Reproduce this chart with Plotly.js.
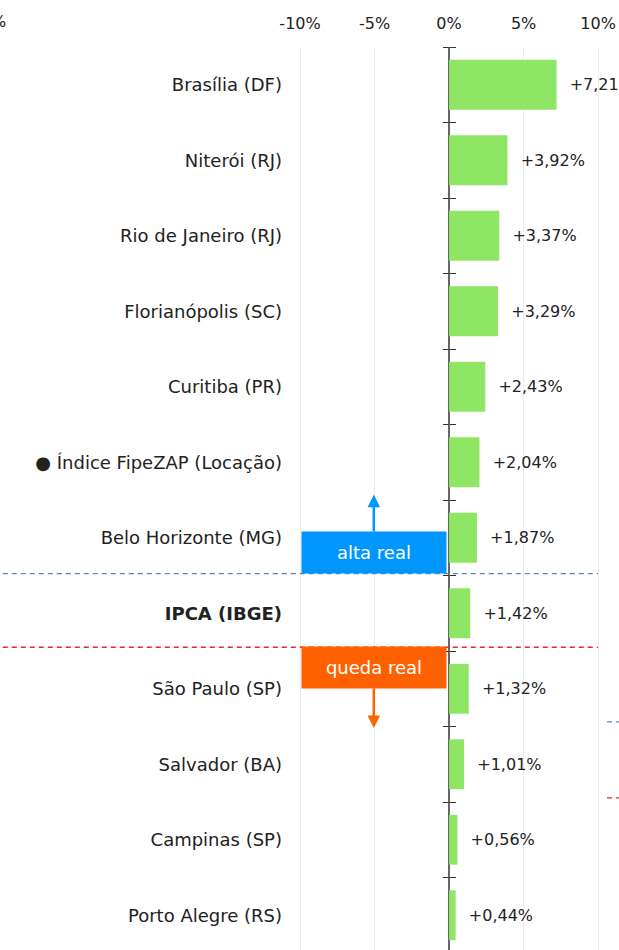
<!DOCTYPE html>
<html>
<head>
<meta charset="utf-8">
<script src="https://cdn.plot.ly/plotly-3.0.1.min.js"></script>
<style>
html, body { margin: 0; padding: 0; overflow: hidden; background: #fff; }
#chart { width: 800px; height: 1000px; }
</style>
</head>
<body>
<div id="chart"></div>
<script>
// ---- data ----
const cities = [
  'Brasília (DF)',
  'Niterói (RJ)',
  'Rio de Janeiro (RJ)',
  'Florianópolis (SC)',
  'Curitiba (PR)',
  '● Índice FipeZAP (Locação)',
  'Belo Horizonte (MG)',
  'IPCA (IBGE)',
  'São Paulo (SP)',
  'Salvador (BA)',
  'Campinas (SP)',
  'Porto Alegre (RS)'
];
const changes = [7.21, 3.92, 3.37, 3.29, 2.43, 2.04, 1.87, 1.42, 1.32, 1.01, 0.56, 0.44];
const xTickVals = [-10, -5, 0, 5, 10];
const xTickText = ['-10%', '-5%', '0%', '5%', '10%'];
const benchmark = 'IPCA (IBGE)';
const upLabel = 'alta real';
const downLabel = 'queda real';

// ---- styling / geometry ----
const FONT = '"DejaVu Sans", "Open Sans", sans-serif';
const W = 800, H = 1000;
const L = 299, T = 47, PW = 304, PH = 906;
const xRange = [-10.07, 10.33];
const n = cities.length;
const zeroFrac = (0 - xRange[0]) / (xRange[1] - xRange[0]);
const tenFrac = (10 - xRange[0]) / (xRange[1] - xRange[0]);
const ipcaIdx = cities.indexOf(benchmark);
const boundaries = cities.map((c, i) => i - 0.5).concat([n - 0.5]);

const fmt = v => '\u00a0\u00a0+' + v.toFixed(2).replace('.', ',') + '%';
const tickText = cities.map(c => c === benchmark ? '<b>' + c + '</b>' : c);

const bars = {
  type: 'bar',
  orientation: 'h',
  x: changes,
  y: cities,
  marker: { color: '#8fe564' },
  text: changes.map(fmt),
  textposition: 'outside',
  constraintext: 'none',
  cliponaxis: false,
  textfont: { family: FONT, size: 16, color: '#222' },
  hoverinfo: 'skip',
  showlegend: false
};
const helperL = { type: 'scatter', mode: 'markers', x: [0], y: [0], yaxis: 'y2',
  marker: { opacity: 0 }, hoverinfo: 'skip', showlegend: false };
const helperR = { type: 'scatter', mode: 'markers', x: [0], y: [0], yaxis: 'y3',
  marker: { opacity: 0 }, hoverinfo: 'skip', showlegend: false };

const tickAxis = side => ({
  overlaying: 'y', anchor: 'free', position: zeroFrac, side: side,
  range: [n - 0.5, -0.5], tickmode: 'array', tickvals: boundaries,
  ticks: 'outside', ticklen: 6, tickwidth: 1, tickcolor: '#333',
  showticklabels: false, showgrid: false, zeroline: false, showline: false,
  fixedrange: true
});

const layout = {
  width: W, height: H,
  margin: { l: L, t: T, r: W - L - PW, b: H - T - PH, pad: 0 },
  paper_bgcolor: '#fff', plot_bgcolor: '#fff',
  font: { family: FONT, color: '#222', size: 16 },
  bargap: 0.34,
  showlegend: true,
  xaxis: {
    side: 'top', range: xRange, tickmode: 'array', tickvals: xTickVals, ticktext: xTickText,
    ticks: '', ticklabelstandoff: 14, tickfont: { size: 16, color: '#222' },
    showgrid: true, gridcolor: '#ececec', gridwidth: 1,
    zeroline: true, zerolinecolor: '#666', zerolinewidth: 2,
    showline: false, fixedrange: true
  },
  yaxis: {
    type: 'category', categoryorder: 'array', categoryarray: cities,
    range: [n - 0.5, -0.5], tickmode: 'array', tickvals: cities, ticktext: tickText,
    ticks: '', ticklabelstandoff: 16, tickfont: { size: 18, color: '#222' },
    showgrid: false, zeroline: false, showline: false, fixedrange: true
  },
  yaxis2: tickAxis('left'),
  yaxis3: tickAxis('right'),
  shapes: [
    { type: 'line', xref: 'paper', yref: 'y', x0: -1.3, x1: tenFrac,
      y0: ipcaIdx - 0.525, y1: ipcaIdx - 0.525,
      line: { color: '#5585d0', width: 1.3, dash: '5px,4px' },
      showlegend: true, name: '', legend: 'legend' },
    { type: 'line', xref: 'paper', yref: 'y', x0: -1.3, x1: tenFrac,
      y0: ipcaIdx + 0.45, y1: ipcaIdx + 0.45,
      line: { color: '#e8262a', width: 1.3, dash: '5px,4px' },
      showlegend: true, name: '', legend: 'legend2' }
  ],
  legend: { x: (602 - L) / PW, xanchor: 'left', y: 1 - (722 - T) / PH, yanchor: 'middle',
    bgcolor: 'rgba(0,0,0,0)', font: { size: 16 } },
  legend2: { x: (602 - L) / PW, xanchor: 'left', y: 1 - (798 - T) / PH, yanchor: 'middle',
    bgcolor: 'rgba(0,0,0,0)', font: { size: 16 } },
  annotations: [
    { xref: 'x', yref: 'y', axref: 'x', ayref: 'y',
      x: -5.05, y: ipcaIdx - 1.57, ax: -5.05, ay: ipcaIdx - 0.805,
      text: upLabel, showarrow: true, arrowhead: 2, arrowsize: 1, arrowwidth: 2.5,
      arrowcolor: '#0096ff', bgcolor: '#0096ff', width: 144, height: 41, borderpad: 0,
      font: { color: '#fff', size: 18 } },
    { xref: 'x', yref: 'y', axref: 'x', ayref: 'y',
      x: -5.05, y: ipcaIdx + 1.52, ax: -5.05, ay: ipcaIdx + 0.72,
      text: downLabel, showarrow: true, arrowhead: 2, arrowsize: 1, arrowwidth: 2.5,
      arrowcolor: '#ff6100', bgcolor: '#ff6100', width: 144, height: 41, borderpad: 0,
      font: { color: '#fff', size: 18 } },
    { xref: 'paper', yref: 'paper', x: (8 - L) / PW, y: 1 + (T - 22) / PH,
      xanchor: 'right', yanchor: 'middle', showarrow: false, text: '%',
      font: { size: 16, color: '#222' } }
  ]
};

Plotly.newPlot('chart', [bars, helperL, helperR], layout, { displayModeBar: false, staticPlot: true });
</script>
</body>
</html>
